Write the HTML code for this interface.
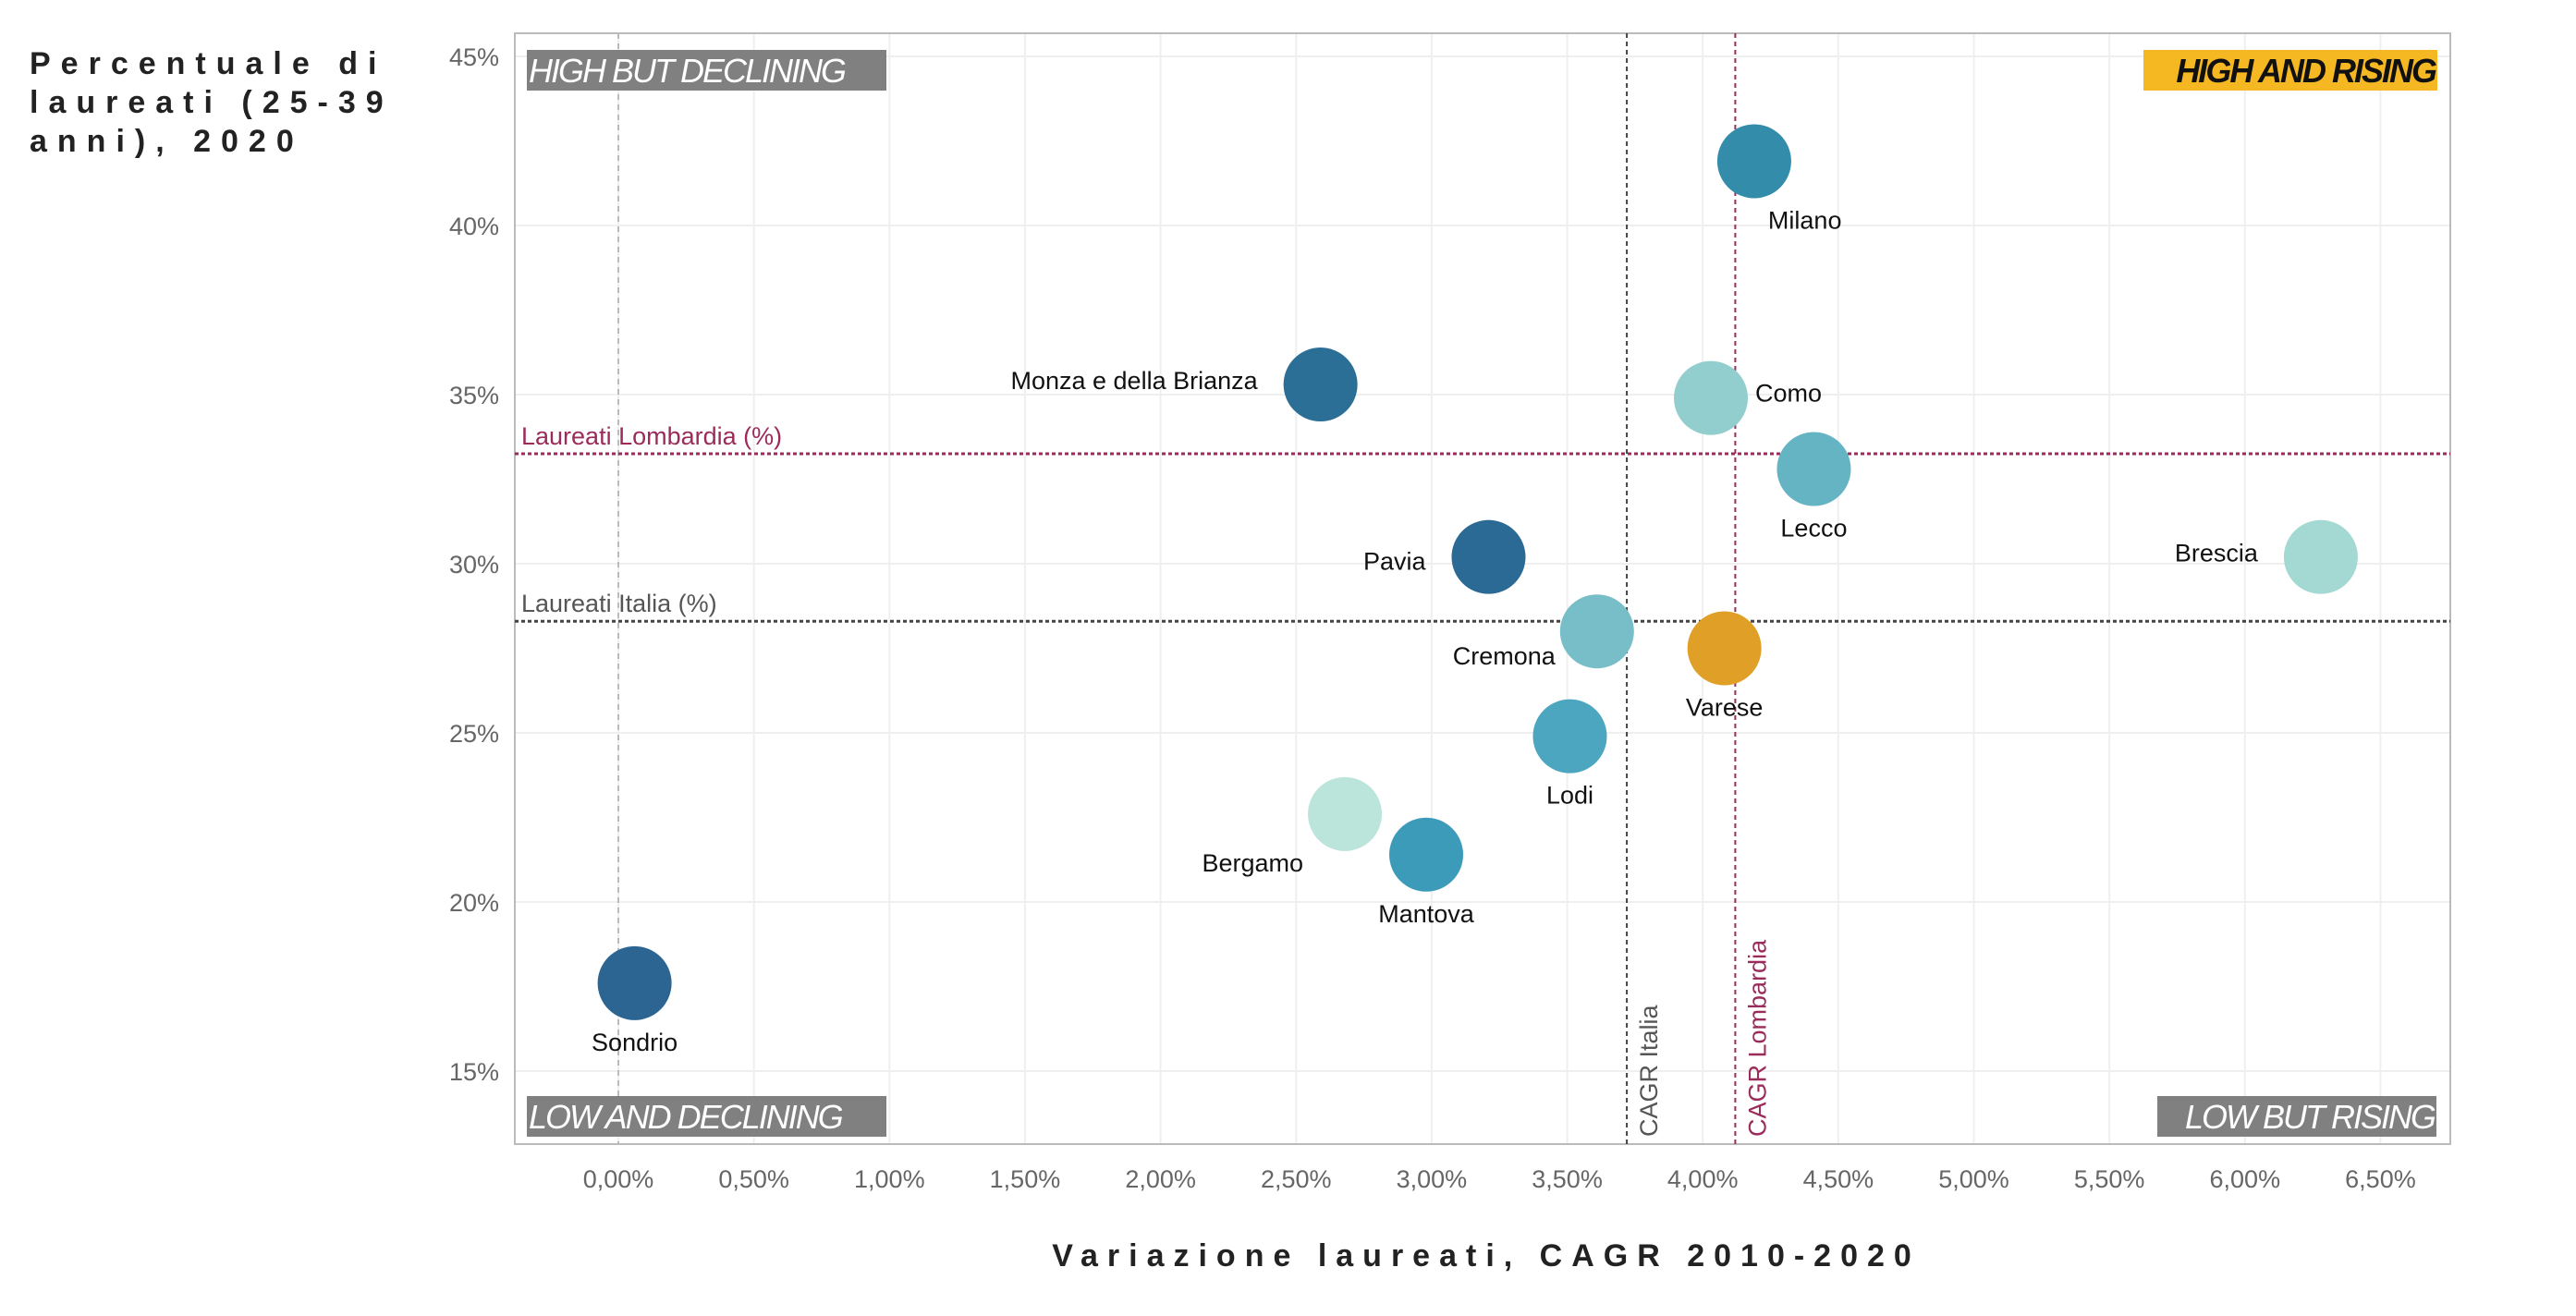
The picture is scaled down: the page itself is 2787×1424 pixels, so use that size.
<!DOCTYPE html>
<html><head><meta charset="utf-8"><style>
body{margin:0;background:#fff;width:2787px;height:1424px;overflow:hidden;font-family:"Liberation Sans",sans-serif}
.t{position:absolute;left:32px;top:48px;font-weight:bold;font-size:34px;letter-spacing:11px;line-height:42px;color:#222}
</style></head><body>
<div class="t">Percentuale di<br>laureati (25-39<br>anni), 2020</div>
<svg id="c" width="2787" height="1424" style="position:absolute;left:0;top:0"></svg>
<script>
const names=["Milano","Monza e della Brianza","Como","Lecco","Pavia","Brescia","Cremona","Varese","Lodi","Bergamo","Mantova","Sondrio"];
const cagr=[4.19,2.59,4.03,4.41,3.21,6.28,3.61,4.08,3.51,2.68,2.98,0.06];
const laureati=[41.9,35.3,34.9,32.8,30.2,30.2,28.0,27.5,24.9,22.6,21.4,17.6];
const colors=["#338ca9","#2b6f96","#93cece","#65b4c3","#2b6a94","#a4d8d2","#78bec8","#e0a027","#4ca6bf","#bbe4da","#3d9bba","#2c6592"];
const labelPos=["below-right","left","right","below","left","left","below-left","below","below","below-left","below","below"];
const xTicks=[0,0.5,1,1.5,2,2.5,3,3.5,4,4.5,5,5.5,6,6.5];
const yTicks=[15,20,25,30,35,40,45];
const refCagrItalia=3.72, refCagrLomb=4.12, refLaurLomb=33.25, refLaurItalia=28.3;
const X=v=>669+v*293.3, Y=v=>244+(40-v)*36.6;
const L=557,R=2651,T=36,B=1238;
const ns="http://www.w3.org/2000/svg",svg=document.getElementById('c');
function mk(t,a,txt){const e=document.createElementNS(ns,t);for(const k in a)e.setAttribute(k,a[k]);if(txt!=null)e.textContent=txt;svg.appendChild(e);return e;}
let e;
xTicks.forEach(v=>{e=mk('line',{x1:X(v),x2:X(v),y1:T,y2:B,stroke:'#efefef','stroke-width':2});


e=mk('text',{x:X(v),y:1285,'text-anchor':'middle','font-size':27,fill:'#666'},v.toFixed(2).replace('.',',')+'%');

});
yTicks.forEach(v=>{e=mk('line',{x1:L,x2:R,y1:Y(v),y2:Y(v),stroke:'#efefef','stroke-width':2});


e=mk('text',{x:540,y:Y(v)+10,'text-anchor':'end','font-size':27,fill:'#666'},v+'%');

});
e=mk('rect',{x:L,y:T,width:R-L,height:B-T,fill:'none',stroke:'#bbb','stroke-width':2});


e=mk('line',{x1:X(0),x2:X(0),y1:T,y2:B,stroke:'#bbb','stroke-width':2,'stroke-dasharray':'6,5'});


e=mk('line',{x1:X(refCagrItalia),x2:X(refCagrItalia),y1:T,y2:B,stroke:'#444','stroke-width':2,'stroke-dasharray':'5,4'});


e=mk('line',{x1:X(refCagrLomb),x2:X(refCagrLomb),y1:T,y2:B,stroke:'#9b2b5a','stroke-width':2,'stroke-dasharray':'5,4'});


e=mk('line',{x1:L,x2:R,y1:Y(refLaurLomb),y2:Y(refLaurLomb),stroke:'#9b2b5a','stroke-width':3,'stroke-dasharray':'4,3'});


e=mk('line',{x1:L,x2:R,y1:Y(refLaurItalia),y2:Y(refLaurItalia),stroke:'#444','stroke-width':3,'stroke-dasharray':'4,3'});


e=mk('text',{x:564,y:Y(refLaurLomb)-10,'font-size':27,fill:'#9b2b5a'},'Laureati Lombardia (%)');


e=mk('text',{x:564,y:Y(refLaurItalia)-10,'font-size':27,fill:'#555'},'Laureati Italia (%)');


e=mk('text',{x:0,y:0,'font-size':27,fill:'#555',transform:`translate(${X(refCagrItalia)+33},1230) rotate(-90)`},'CAGR Italia');


e=mk('text',{x:0,y:0,'font-size':27,fill:'#9b2b5a',transform:`translate(${X(refCagrLomb)+33},1230) rotate(-90)`},'CAGR Lombardia');


[[570,54,389,'#808080','#fff','HIGH BUT DECLINING','start',0],[2331,54,318,'#f5b822','#111','HIGH AND RISING','end',1],[570,1186,389,'#808080','#fff','LOW AND DECLINING','start',0],[2346,1186,302,'#808080','#fff','LOW BUT RISING','end',0]].forEach(q=>{
e=mk('rect',{x:q[0]-(q[6]=='end'?12:0),y:q[1],width:q[2],height:44,fill:q[3]});


e=mk('text',{x:q[6]=='start'?q[0]+2:q[0]+q[2]-14,y:q[1]+35,'text-anchor':q[6],'font-size':36,'font-style':'italic','font-weight':q[7]?'bold':'normal',fill:q[4],'letter-spacing':-2},q[5]);

});
names.forEach((n,i)=>{const cx=X(cagr[i]),cy=Y(laureati[i]);
e=mk('circle',{cx:cx,cy:cy,r:40,fill:colors[i]});


let p=labelPos[i],lx=cx,ly=cy,a='middle';
if(p=='below'){ly=cy+73;}
else if(p=='below-right'){lx=cx+15;ly=cy+73;a='start';}
else if(p=='below-left'){lx=cx-45;ly=cy+(n=='Bergamo'?62:36);a='end';}
else if(p=='left'){lx=cx-68;ly=cy+(n=='Pavia'?14:5);a='end';}
else if(p=='right'){lx=cx+48;ly=cy+4;a='start';}
e=mk('text',{x:lx,y:ly,'text-anchor':a,'font-size':27,fill:'#111'},n);

});
e=mk('text',{x:1608,y:1370,'text-anchor':'middle','font-size':34,'font-weight':'bold',fill:'#222','letter-spacing':10},'Variazione laureati, CAGR 2010-2020');


</script>
</body></html>
